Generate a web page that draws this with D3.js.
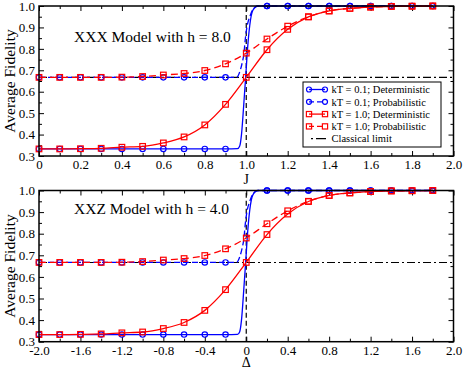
<!DOCTYPE html>
<html>
<head>
<meta charset="utf-8">
<script src="https://cdn.jsdelivr.net/npm/d3@7"></script>
<style>
  body { margin: 0; background: #fff; }
  text { font-family: "Liberation Serif", "Times New Roman", serif; fill: #000; }
</style>
</head>
<body>
<script>
// grid of the markers (same fidelity values, J for XXX, Delta for XXZ)
const jGrid = [0, 0.1, 0.2, 0.3, 0.4, 0.5, 0.6, 0.7, 0.8, 0.9, 1.0, 1.1, 1.2, 1.3, 1.4, 1.5, 1.6, 1.7, 1.8, 1.9];
const deltaGrid = [-2.0, -1.8, -1.6, -1.4, -1.2, -1.0, -0.8, -0.6, -0.4, -0.2, 0, 0.2, 0.4, 0.6, 0.8, 1.0, 1.2, 1.4, 1.6, 1.8];

// kT = 0.1 (null = no marker, the step is drawn from the extra points below)
const detLow = [0.333, 0.333, 0.333, 0.333, 0.333, 0.333, 0.333, 0.333, 0.333, 0.333, null, 1, 1, 1, 1, 1, 1, 1, 1, 1];
const probLow = [0.667, 0.667, 0.667, 0.667, 0.667, 0.667, 0.667, 0.667, 0.667, 0.667, null, 1, 1, 1, 1, 1, 1, 1, 1, 1];
// kT = 1.0
const detHigh = [0.333, 0.333, 0.334, 0.336, 0.341, 0.345, 0.361, 0.389, 0.445, 0.541, 0.667, 0.796, 0.891, 0.949, 0.977, 0.989, 0.995, 0.998, 0.999, 1.0];
const probHigh = [0.667, 0.667, 0.667, 0.667, 0.668, 0.671, 0.678, 0.685, 0.699, 0.730, 0.780, 0.846, 0.906, 0.950, 0.977, 0.989, 0.995, 0.998, 0.999, 1.0];

// points read along the steep kT = 0.1 step
const detStepJ = [0.958, 0.968, 0.977, 0.988, 0.998, 1.007, 1.017, 1.032, 1.055];
const detStepDelta = [-0.084, -0.064, -0.046, -0.024, -0.004, 0.014, 0.034, 0.064, 0.11];
const detStep = [0.334, 0.345, 0.40, 0.54, 0.68, 0.81, 0.91, 0.98, 1.0];
const probStepJ = [0.953, 0.969, 0.980, 0.989, 0.995, 1.003, 1.017, 1.033, 1.057];
const probStepDelta = [-0.094, -0.062, -0.040, -0.022, -0.010, 0.006, 0.034, 0.066, 0.114];
const probStep = [0.667, 0.694, 0.733, 0.78, 0.842, 0.90, 0.95, 0.985, 1.0];

const classicalLimit = 2 / 3;

// ticks
const jMajor = [0, 0.2, 0.4, 0.6, 0.8, 1.0, 1.2, 1.4, 1.6, 1.8, 2.0];
const jMinor = [0.1, 0.3, 0.5, 0.7, 0.9, 1.1, 1.3, 1.5, 1.7, 1.9];
const deltaMajor = [-2.0, -1.6, -1.2, -0.8, -0.4, 0, 0.4, 0.8, 1.2, 1.6, 2.0];
const deltaMinor = [-1.8, -1.4, -1.0, -0.6, -0.2, 0.2, 0.6, 1.0, 1.4, 1.8];
const fidMajor = [0.3, 0.4, 0.5, 0.6, 0.7, 0.8, 0.9, 1.0];
const fidMinor = [0.35, 0.45, 0.55, 0.65, 0.75, 0.85, 0.95];

const legendLabels = ['kT = 0.1; Deterministic', 'kT = 0.1; Probabilistic',
  'kT = 1.0; Deterministic', 'kT = 1.0; Probabilistic', 'Classical limit'];

const blue = '#0000ff';
const red = '#ff0000';

const svg = d3.select('body')
  .append('svg')
  .attr('width', 463)
  .attr('height', 370);

const panels = [
  { top: 6, bottom: 156, grid: jGrid, domain: [0, 2], major: jMajor, minor: jMinor,
    detX: detStepJ, probX: probStepJ, centre: 1, title: 'XXX Model with h = 8.0', xLabel: 'J',
    titleY: 42, xLabelY: 184, yLabelY: 81, legend: true },
  { top: 190.5, bottom: 341.7, grid: deltaGrid, domain: [-2, 2], major: deltaMajor, minor: deltaMinor,
    detX: detStepDelta, probX: probStepDelta, centre: 0, title: 'XXZ Model with h = 4.0', xLabel: '\u0394',
    titleY: 214, xLabelY: 367, yLabelY: 266, legend: false }
];

const fmtX = (d) => Math.abs(d) < 1e-9 ? '0' : d.toFixed(1);

panels.forEach((p) => {
  const x = d3.scaleLinear().domain(p.domain).range([39, 453.5]);
  const y = d3.scaleLinear().domain([0.3, 1.0]).range([p.bottom, p.top]);
  const g = svg.append('g');

  // axes, ticks pointing inward
  const addAxis = (axis, tf) => g.append('g')
    .attr('transform', tf)
    .call(axis)
    .call((a) => a.select('.domain').remove())
    .call((a) => a.selectAll('line').attr('stroke', '#000').attr('stroke-width', 1))
    .call((a) => a.selectAll('text').style('font-size', '13px').style('font-family', '"Liberation Serif", serif'));

  addAxis(d3.axisBottom(x).tickValues(p.major).tickSize(-5).tickPadding(4).tickFormat(fmtX), `translate(0,${p.bottom})`);
  addAxis(d3.axisBottom(x).tickValues(p.minor).tickSize(-3).tickFormat(''), `translate(0,${p.bottom})`);
  addAxis(d3.axisTop(x).tickValues(p.major).tickSize(-5).tickFormat(''), `translate(0,${p.top})`);
  addAxis(d3.axisTop(x).tickValues(p.minor).tickSize(-3).tickFormat(''), `translate(0,${p.top})`);
  addAxis(d3.axisLeft(y).tickValues(fidMajor).tickSize(-5).tickPadding(4).tickFormat(d3.format('.1f')), 'translate(39,0)');
  addAxis(d3.axisLeft(y).tickValues(fidMinor).tickSize(-3).tickFormat(''), 'translate(39,0)');
  addAxis(d3.axisRight(y).tickValues(fidMajor).tickSize(-5).tickFormat(''), 'translate(453.5,0)');
  addAxis(d3.axisRight(y).tickValues(fidMinor).tickSize(-3).tickFormat(''), 'translate(453.5,0)');

  // classical limit and critical point
  g.append('line')
    .attr('x1', x(p.domain[0])).attr('x2', x(p.domain[1]))
    .attr('y1', y(classicalLimit)).attr('y2', y(classicalLimit))
    .attr('stroke', '#000').attr('stroke-width', 1.2)
    .attr('stroke-dasharray', '8,3,2,3');
  g.append('line')
    .attr('x1', x(p.centre)).attr('x2', x(p.centre))
    .attr('y1', y(0.3)).attr('y2', y(1.0))
    .attr('stroke', '#000').attr('stroke-width', 1.2)
    .attr('stroke-dasharray', '5,3');

  const line = d3.line()
    .x((d) => x(d[0]))
    .y((d) => y(d[1]))
    .curve(d3.curveMonotoneX);

  const series = [
    { vals: detLow, stepX: p.detX, step: detStep, color: blue, dash: null, shape: 'circle' },
    { vals: probLow, stepX: p.probX, step: probStep, color: blue, dash: '6,3', shape: 'circle' },
    { vals: detHigh, stepX: null, step: null, color: red, dash: null, shape: 'square' },
    { vals: probHigh, stepX: null, step: null, color: red, dash: '7,4', shape: 'square' }
  ];

  series.forEach((s) => {
    const markers = p.grid.map((xv, i) => [xv, s.vals[i]]).filter((d) => d[1] !== null);
    let pts = markers.slice();
    if (s.stepX) {
      pts = pts.concat(s.stepX.map((xv, i) => [xv, s.step[i]]));
      pts.sort((a, b) => a[0] - b[0]);
    }
    g.append('path')
      .attr('d', line(pts))
      .attr('fill', 'none')
      .attr('stroke', s.color)
      .attr('stroke-width', 1.3)
      .attr('stroke-dasharray', s.dash);

    const m = g.append('g').selectAll('.mk').data(markers).enter();
    if (s.shape === 'circle') {
      m.append('circle')
        .attr('cx', (d) => x(d[0]))
        .attr('cy', (d) => y(d[1]))
        .attr('r', 2.7)
        .attr('fill', 'none')
        .attr('stroke', s.color)
        .attr('stroke-width', 1.2);
    } else {
      m.append('rect')
        .attr('x', (d) => x(d[0]) - 2.8)
        .attr('y', (d) => y(d[1]) - 2.8)
        .attr('width', 5.6)
        .attr('height', 5.6)
        .attr('fill', 'none')
        .attr('stroke', s.color)
        .attr('stroke-width', 1.2);
    }
  });

  // frame
  g.append('rect')
    .attr('x', 39).attr('y', p.top)
    .attr('width', 453.5 - 39).attr('height', p.bottom - p.top)
    .attr('fill', 'none').attr('stroke', '#000').attr('stroke-width', 1.5);

  g.append('text')
    .attr('x', 74).attr('y', p.titleY)
    .style('font-size', '15.5px')
    .text(p.title);

  g.append('text')
    .attr('x', x(p.centre)).attr('y', p.xLabelY)
    .attr('text-anchor', 'middle')
    .style('font-size', '14px')
    .text(p.xLabel);

  g.append('text')
    .attr('transform', `translate(14.5,${p.yLabelY}) rotate(-90)`)
    .attr('text-anchor', 'middle')
    .style('font-size', '15.5px')
    .text('Average Fidelity');

  if (p.legend) {
    const lg = svg.append('g');
    lg.append('rect')
      .attr('x', 303).attr('y', 82)
      .attr('width', 138).attr('height', 65)
      .attr('fill', '#fff').attr('stroke', '#000').attr('stroke-width', 1);

    const items = [
      { color: blue, dash: null, shape: 'circle' },
      { color: blue, dash: '5,3', shape: 'circle' },
      { color: red, dash: null, shape: 'square' },
      { color: red, dash: '5,3', shape: 'square' },
      { color: '#000', dash: '6,3,2,3', shape: null }
    ];
    items.forEach((it, i) => {
      const cy = 89.5 + i * 12.3;
      const row = lg.append('g');
      if (it.shape) {
        row.append('line')
          .attr('x1', 309).attr('x2', 325).attr('y1', cy).attr('y2', cy)
          .attr('stroke', it.color).attr('stroke-width', 1.3)
          .attr('stroke-dasharray', it.dash);
        [309, 325].forEach((mx) => {
          if (it.shape === 'circle') {
            row.append('circle').attr('cx', mx).attr('cy', cy).attr('r', 2.5)
              .attr('fill', 'none').attr('stroke', it.color).attr('stroke-width', 1.2);
          } else {
            row.append('rect').attr('x', mx - 2.6).attr('y', cy - 2.6).attr('width', 5.2).attr('height', 5.2)
              .attr('fill', 'none').attr('stroke', it.color).attr('stroke-width', 1.2);
          }
        });
      } else {
        row.append('line')
          .attr('x1', 311).attr('x2', 326).attr('y1', cy).attr('y2', cy)
          .attr('stroke', it.color).attr('stroke-width', 1.3)
          .attr('stroke-dasharray', '2,3,10,3');
      }
      row.append('text')
        .attr('x', 331.5).attr('y', cy + 3.7)
        .style('font-size', '10.5px')
        .text(legendLabels[i]);
    });
  }
});
</script>
</body>
</html>
